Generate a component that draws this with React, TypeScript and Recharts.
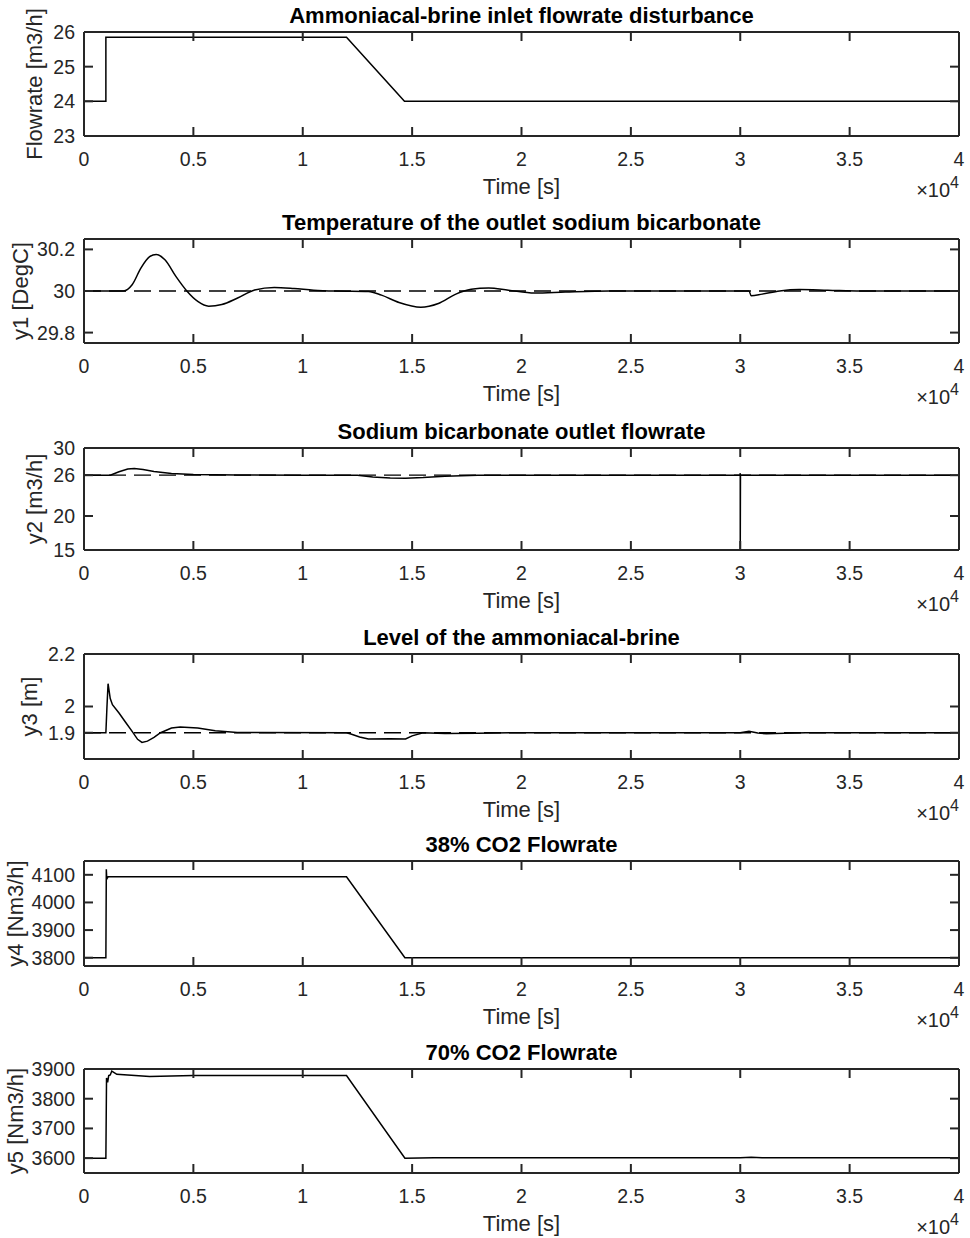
import { Label, Line, LineChart, ReferenceLine, XAxis, YAxis } from "recharts";

// time in units of 1e4 s
const timeTicks = [0, 0.5, 1, 1.5, 2, 2.5, 3, 3.5, 4];

const inletT = [0, 0.1, 0.1, 1.2, 1.465, 4];
const inletF = [24, 24, 25.85, 25.85, 24, 24];

const y1T = [0, 0.18, 0.22, 0.26, 0.3, 0.33, 0.37, 0.42, 0.47, 0.52, 0.57, 0.63, 0.7, 0.78, 0.87, 0.96, 1.05, 1.15, 1.3, 1.36, 1.44, 1.54, 1.62, 1.7, 1.77, 1.85, 1.94, 2.06, 2.2, 2.4, 3.04, 3.05, 3.1, 3.18, 3.27, 3.4, 3.55, 4];
const y1V = [30, 30, 30.03, 30.11, 30.165, 30.176, 30.15, 30.07, 30.0, 29.95, 29.927, 29.935, 29.965, 30.005, 30.017, 30.012, 30.004, 30.0, 29.998, 29.98, 29.945, 29.922, 29.94, 29.985, 30.008, 30.015, 30.004, 29.99, 29.995, 30, 30, 29.977, 29.985, 30.0, 30.007, 30.004, 30.0, 30];

const y2T = [0, 0.12, 0.16, 0.2, 0.23, 0.27, 0.32, 0.4, 0.5, 0.7, 1.0, 1.25, 1.32, 1.4, 1.47, 1.55, 1.65, 1.8, 2.999, 3.0, 3.0, 3.001, 4];
const y2V = [26, 26, 26.5, 26.9, 27.0, 26.85, 26.55, 26.25, 26.1, 26.03, 26.0, 25.98, 25.75, 25.6, 25.55, 25.65, 25.85, 26.0, 26.0, 26.3, 15, 26, 26];

const y3T = [0, 0.1, 0.105, 0.11, 0.12, 0.13, 0.16, 0.19, 0.22, 0.245, 0.265, 0.29, 0.32, 0.35, 0.4, 0.44, 0.52, 0.6, 0.7, 1.2, 1.22, 1.26, 1.3, 1.4, 1.47, 1.5, 1.55, 1.65, 1.8, 1.95, 3.0, 3.04, 3.08, 3.12, 3.2, 3.3, 4];
const y3V = [1.9, 1.9, 2.0, 2.087, 2.03, 2.007, 1.975, 1.94, 1.905, 1.875, 1.863, 1.868, 1.882, 1.9, 1.918, 1.922, 1.918, 1.908, 1.901, 1.9, 1.895, 1.884, 1.876, 1.877, 1.876, 1.888, 1.9, 1.897, 1.898, 1.9, 1.9, 1.906, 1.899, 1.896, 1.898, 1.9, 1.9];

const y4T = [0, 0.1, 0.102, 0.104, 0.11, 0.13, 1.2, 1.467, 4];
const y4V = [3800, 3800, 4120, 4085, 4093, 4093, 4093, 3800, 3800];

const y5T = [0, 0.1, 0.103, 0.108, 0.113, 0.12, 0.127, 0.15, 0.3, 0.5, 1.2, 1.467, 1.6, 3.0, 3.05, 3.1, 4];
const y5V = [3600, 3600, 3870, 3855, 3878, 3880, 3893, 3882, 3875, 3878, 3878, 3600, 3601, 3601, 3603, 3601, 3601];

const titles = [
  "Ammoniacal-brine inlet flowrate disturbance",
  "Temperature of the outlet sodium bicarbonate",
  "Sodium bicarbonate outlet flowrate",
  "Level of the ammoniacal-brine",
  "38% CO2 Flowrate",
  "70% CO2 Flowrate",
];
const yLabels = ["Flowrate [m3/h]", "y1 [DegC]", "y2 [m3/h]", "y3 [m]", "y4 [Nm3/h]", "y5 [Nm3/h]"];
const setpoints = [null, 30, 26, 1.9, null, null];

const FONT = "'Liberation Sans', Arial, Helvetica, sans-serif";
const AXIS = "#262626";

interface PanelCfg {
  top: number;
  plotH: number;
  domain: [number, number];
  ticks: number[];
  labelX: number;
  curve: "linear" | "monotone";
  t: number[];
  v: number[];
}

const panels: PanelCfg[] = [
  { top: 32, plotH: 104, domain: [23, 26], ticks: [23, 24, 25, 26], labelX: 42, curve: "linear", t: inletT, v: inletF },
  { top: 239, plotH: 104, domain: [29.75, 30.25], ticks: [29.8, 30, 30.2], labelX: 28, curve: "monotone", t: y1T, v: y1V },
  { top: 448, plotH: 102, domain: [15, 30], ticks: [15, 20, 26, 30], labelX: 42, curve: "linear", t: y2T, v: y2V },
  { top: 654, plotH: 105, domain: [1.8, 2.2], ticks: [1.9, 2, 2.2], labelX: 37, curve: "linear", t: y3T, v: y3V },
  { top: 861, plotH: 105, domain: [3770, 4150], ticks: [3800, 3900, 4000, 4100], labelX: 23, curve: "linear", t: y4T, v: y4V },
  { top: 1069, plotH: 104, domain: [3550, 3900], ticks: [3600, 3700, 3800, 3900], labelX: 23, curve: "linear", t: y5T, v: y5V },
];

const noLabel = () => "";

function TimeLabel(props: any) {
  const vb = props.viewBox || {};
  const { x = 84, y = 0, width = 875 } = vb;
  return (
    <g>
      <text x={x + width / 2} y={y + 58} textAnchor="middle" fontSize={22} fill={AXIS}>
        Time [s]
      </text>
      <text x={x + width} y={y + 61} textAnchor="end" fontSize={20} fill={AXIS}>
        ×10
        <tspan dy={-9} fontSize={16}>
          4
        </tspan>
      </text>
    </g>
  );
}

function Panel({ p, i }: { p: PanelCfg; i: number }) {
  const data = p.t.map((t, k) => ({ t, v: p.v[k] }));
  const height = 32 + p.plotH + 70;
  const sp = setpoints[i];
  return (
    <div style={{ position: "absolute", left: 0, top: p.top - 32 }}>
      <LineChart width={970} height={height} data={data} margin={{ top: 31, right: 10, bottom: 0, left: 0 }}>
        <XAxis
          xAxisId="b"
          dataKey="t"
          type="number"
          domain={[0, 4]}
          ticks={timeTicks}
          interval={0}
          allowDataOverflow
          height={70}
          tickSize={-9}
          tickMargin={25}
          axisLine={{ stroke: AXIS, strokeWidth: 2 }}
          tickLine={{ stroke: AXIS, strokeWidth: 2 }}
          tick={{ fill: AXIS, fontSize: 19.5 }}
        >
          <Label content={TimeLabel} />
        </XAxis>
        <XAxis
          xAxisId="t"
          orientation="top"
          dataKey="t"
          type="number"
          domain={[0, 4]}
          ticks={timeTicks}
          interval={0}
          allowDataOverflow
          height={1}
          tickSize={-9}
          tickFormatter={noLabel}
          axisLine={{ stroke: AXIS, strokeWidth: 2 }}
          tickLine={{ stroke: AXIS, strokeWidth: 2 }}
        >
          <Label
            content={(lp: any) => {
              const vb = lp.viewBox || {};
              const { x = 84, y = 31, width = 875, height: h = 1 } = vb;
              return (
                <text x={x + width / 2} y={y + h - 9} textAnchor="middle" fontSize={22} fontWeight="bold" fill="#000">
                  {titles[i]}
                </text>
              );
            }}
          />
        </XAxis>
        <YAxis
          yAxisId="l"
          type="number"
          domain={p.domain}
          ticks={p.ticks}
          interval={0}
          allowDataOverflow
          width={84}
          tickSize={-9}
          tickMargin={18}
          axisLine={{ stroke: AXIS, strokeWidth: 2 }}
          tickLine={{ stroke: AXIS, strokeWidth: 2 }}
          tick={{ fill: AXIS, fontSize: 19.5 }}
        >
          <Label
            content={(lp: any) => {
              const vb = lp.viewBox || {};
              const { y = p.top, height: h = p.plotH } = vb;
              const cy = y + h / 2;
              return (
                <text x={p.labelX} y={cy} transform={`rotate(-90 ${p.labelX} ${cy})`} textAnchor="middle" fontSize={22} fill={AXIS}>
                  {yLabels[i]}
                </text>
              );
            }}
          />
        </YAxis>
        <YAxis
          yAxisId="r"
          orientation="right"
          type="number"
          domain={p.domain}
          ticks={p.ticks}
          interval={0}
          allowDataOverflow
          width={1}
          tickSize={-9}
          tickFormatter={noLabel}
          axisLine={{ stroke: AXIS, strokeWidth: 2 }}
          tickLine={{ stroke: AXIS, strokeWidth: 2 }}
        />
        {sp !== null && (
          <ReferenceLine xAxisId="b" yAxisId="l" y={sp} stroke="#000" strokeWidth={1.3} strokeDasharray="17 8" />
        )}
        <Line
          xAxisId="b"
          yAxisId="l"
          dataKey="v"
          type={p.curve}
          stroke="#000"
          strokeWidth={1.5}
          dot={false}
          activeDot={false}
          isAnimationActive={false}
        />
      </LineChart>
    </div>
  );
}

export default function App() {
  return (
    <div style={{ position: "absolute", left: 0, top: 0, width: 970, height: 1238, background: "#fff", fontFamily: FONT }}>
      {panels.map((p, i) => (
        <Panel key={i} p={p} i={i} />
      ))}
    </div>
  );
}
